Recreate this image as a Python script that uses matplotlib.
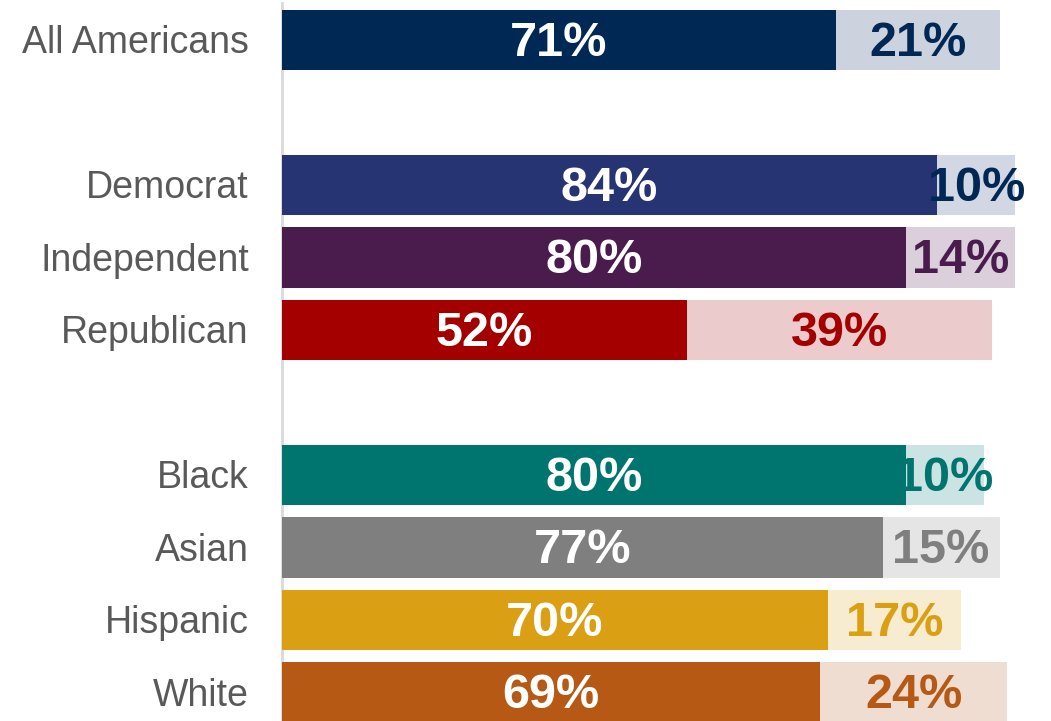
import matplotlib.pyplot as plt
import matplotlib.transforms as mtransforms

plt.rcParams['font.family'] = ['Liberation Sans', 'DejaVu Sans']

groups = ['All Americans', 'Democrat', 'Independent', 'Republican',
          'Black', 'Asian', 'Hispanic', 'White']
main_pct = [71, 84, 80, 52, 80, 77, 70, 69]
second_pct = [21, 10, 14, 39, 10, 15, 17, 24]

# row slots, with blank rows between the blocks
rows = [0, 2, 3, 4, 6, 7, 8, 9]

dark = ['#002855', '#263473', '#4A1C4E', '#A50000',
        '#00756F', '#7F7F7F', '#DA9F12', '#B55914']
light = ['#CDD3DE', '#D3D7E3', '#DBCFDC', '#EBCBCC',
         '#CCE3E3', '#E5E5E5', '#F7EBD0', '#F0DDD1']
second_text = ['#002855', '#002855', '#4A1C4E', '#A50000',
               '#00756F', '#7F7F7F', '#DA9F12', '#B55914']

fig = plt.figure(figsize=(10.51, 7.21), dpi=100)
ax = fig.add_axes([281 / 1051, 0, 770 / 1051, 1])

h = 0.84
ax.barh(rows, main_pct, height=h, color=dark)
ax.barh(rows, second_pct, left=main_pct, height=h, color=light)

dy = 0.045
for r, m, s, tc in zip(rows, main_pct, second_pct, second_text):
    ax.text(m / 2, r + dy, f'{m}%', ha='center', va='center', color='white',
            fontsize=35, fontweight='bold')
    ax.text(m + s / 2, r + dy, f'{s}%', ha='center', va='center', color=tc,
            fontsize=35, fontweight='bold')

offset = mtransforms.ScaledTranslation(-33 / 100, 0, fig.dpi_scale_trans)
for r, g in zip(rows, groups):
    ax.text(0, r + dy, g, ha='right', va='center', color='#595959', fontsize=27,
            transform=ax.transData + offset, clip_on=False)

ax.axvline(0, ymin=0, ymax=0.996, color='#D9D9D9', lw=2, zorder=0)
ax.set_xlim(-0.1, 770 / 7.81)
ax.set_ylim(9.393, -0.552)
ax.axis('off')

fig.savefig('out.png', dpi=100)
